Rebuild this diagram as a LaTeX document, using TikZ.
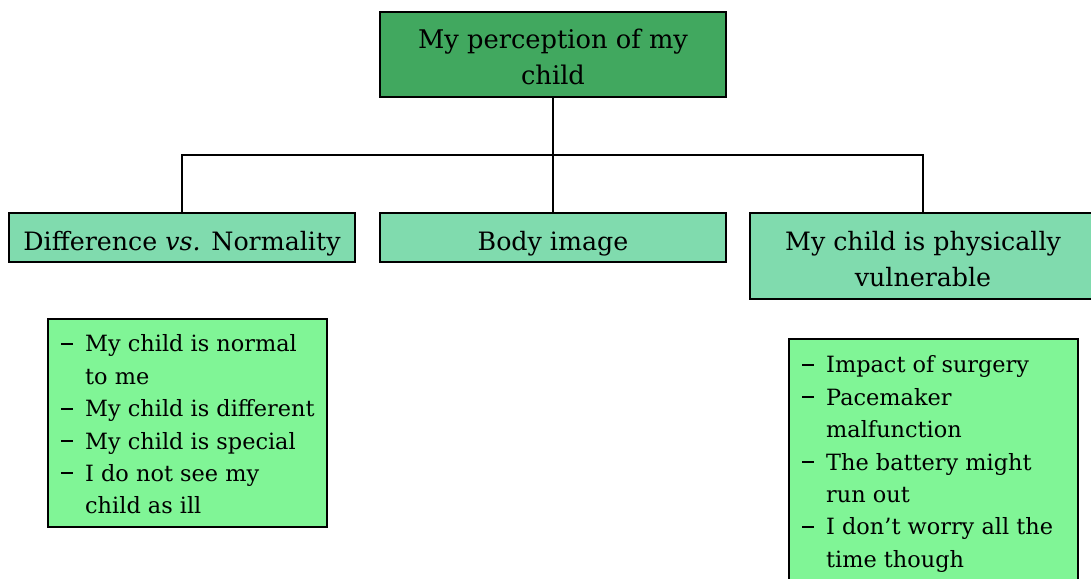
\documentclass[tikz,border=0pt]{standalone}
\usepackage{fontspec}
\setmainfont{DejaVu Serif}
\definecolor{rootgreen}{HTML}{41A85F}
\definecolor{themegreen}{HTML}{80DBAE}
\definecolor{listgreen}{HTML}{80F596}
% list entries: a dash, then text with a hanging indent
\newcommand{\itm}[1]{\makebox[24pt][l]{\rule[7.2pt]{12pt}{2pt}}#1}
\newcommand{\cnt}[1]{\hspace*{24pt}#1}
% fixed first-line height so a node's top sits a known distance above its baseline
\newcommand{\toprule}{\rule{0pt}{20pt}}
\begin{document}
\begin{tikzpicture}[x=1pt,y=-1pt,
  frame/.style={draw=black, line width=1.6pt, inner sep=0pt},
  rootbox/.style={frame, fill=rootgreen},
  themebox/.style={frame, fill=themegreen},
  listbox/.style={frame, fill=listgreen},
  rootlabel/.style={inner sep=0pt, anchor=north, align=center,
    font=\fontsize{25.7}{36}\selectfont},
  themelabel/.style={inner sep=0pt, anchor=north, align=center,
    font=\fontsize{25.3}{36.5}\selectfont},
  listlabel/.style={inner sep=0pt, anchor=north west, align=left,
    font=\fontsize{22.4}{32.4}\selectfont},
  link/.style={draw=black, line width=1.6pt}]
\useasboundingbox (0,0) rectangle (1091,578);
\clip (0,0) rectangle (1091,578);

% top of the tree
\node[rootbox, minimum width=346pt, minimum height=85pt] (root) at (553,54.5) {};
\node[rootlabel] (roottext) at (553,28.5) {\toprule My perception of my\\child};

% three themes
\node[themebox, minimum width=346pt, minimum height=49pt] (diff) at (182,237.5) {};
\node[themelabel] (difftext) at (182,230) {\toprule Difference \textit{vs.} Normality};
\node[themebox, minimum width=346pt, minimum height=49pt] (body) at (553,237.5) {};
\node[themelabel] (bodytext) at (553,230) {\toprule Body image};
\node[themebox, minimum width=346pt, minimum height=86pt] (vuln) at (923,256) {};
\node[themelabel] (vulntext) at (923,230) {\toprule My child is physically\\vulnerable};

% sub-themes
\node[listbox, minimum width=279pt, minimum height=208pt] (difflist) at (187.5,423) {};
\node[listlabel] (difflisttext) at (61,331.7)
  {\toprule\itm{My child is normal}\\ \cnt{to me}\\ \itm{My child is different}\\
   \itm{My child is special}\\ \itm{I do not see my}\\ \cnt{child as ill}};
\node[listbox, minimum width=289pt, minimum height=241pt] (vulnlist) at (933.5,459.5) {};
\node[listlabel] (vulnlisttext) at (802,352.7)
  {\toprule\itm{Impact of surgery}\\ \itm{Pacemaker}\\ \cnt{malfunction}\\
   \itm{The battery might}\\ \cnt{run out}\\ \itm{I don’t worry all the}\\
   \cnt{time though}};

% connectors
\coordinate (hub) at (553,155);
\draw[link] (root.south) -- (hub);
\draw[link] (diff.north) |- (hub);
\draw[link] (hub) -| (vuln.north);
\draw[link] (hub) -- (body.north);
\end{tikzpicture}
\end{document}
